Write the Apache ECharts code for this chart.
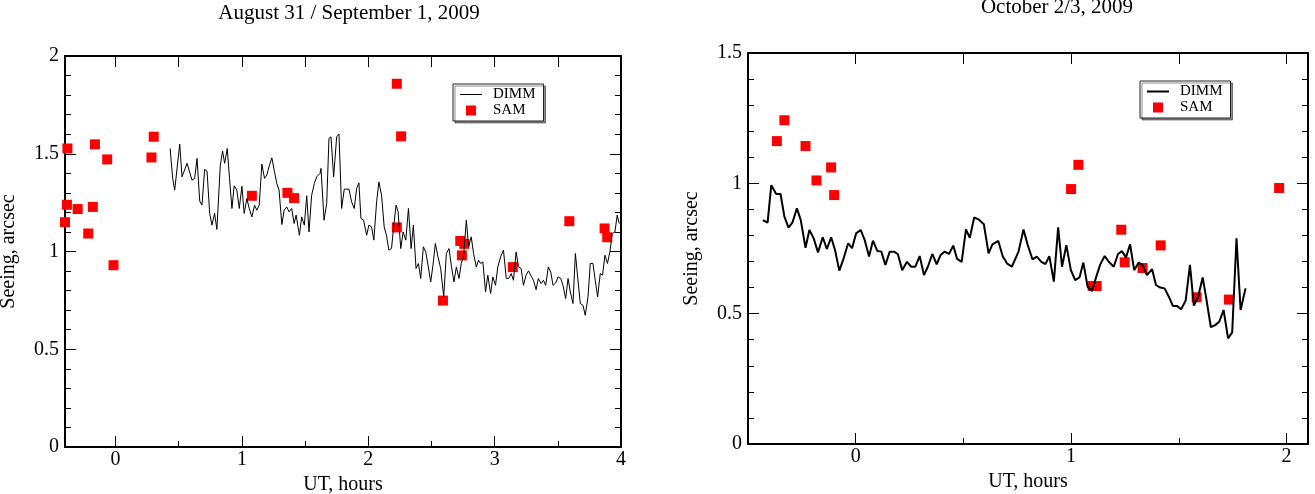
<!DOCTYPE html>
<html>
<head>
<meta charset="utf-8">
<script src="https://cdn.jsdelivr.net/npm/echarts@6/dist/echarts.min.js"></script>
<style>
html, body { margin: 0; padding: 0; background: #fff; }
#main { width: 1315px; height: 494px; }
</style>
</head>
<body>
<div id="main"></div>
<script>
// August 31 / September 1 - DIMM trace (UT hours, arcsec)
var dimmAugX = [0.432, 0.452, 0.468, 0.508, 0.526, 0.566, 0.605, 0.626, 0.645, 0.666, 0.684, 0.705, 0.724, 0.745, 0.763, 0.784, 0.802, 0.829, 0.847, 0.863,
    0.884, 0.902, 0.921, 0.939, 0.960, 0.979, 1.000, 1.018, 1.039, 1.058, 1.079, 1.100, 1.118, 1.137, 1.158, 1.179, 1.197, 1.218, 1.237, 1.258,
    1.276, 1.294, 1.316, 1.334, 1.355, 1.373, 1.394, 1.413, 1.429, 1.442, 1.455, 1.473, 1.494, 1.513, 1.531, 1.552, 1.573, 1.592, 1.618,
    1.626, 1.650, 1.671, 1.689, 1.705, 1.726, 1.750, 1.768, 1.789, 1.810, 1.829, 1.847, 1.868, 1.889, 1.908, 1.926, 1.942, 1.963, 1.987, 2.005,
    2.026, 2.044, 2.066, 2.084, 2.105, 2.126, 2.144, 2.163, 2.184, 2.202, 2.220, 2.236, 2.257, 2.276, 2.297, 2.318, 2.339, 2.357, 2.378, 2.397,
    2.415, 2.436, 2.455, 2.473, 2.494, 2.512, 2.531, 2.552, 2.573, 2.597, 2.618, 2.639, 2.657, 2.678, 2.697, 2.718, 2.736, 2.755, 2.776,
    2.794, 2.815, 2.833, 2.855, 2.873, 2.889, 2.907, 2.928, 2.946, 2.968, 2.986, 3.007, 3.025, 3.047, 3.070, 3.092, 3.112, 3.131, 3.149, 3.170,
    3.189, 3.210, 3.228, 3.249, 3.268, 3.289, 3.307, 3.328, 3.346, 3.368, 3.386, 3.404, 3.425, 3.444, 3.462, 3.483, 3.502, 3.523, 3.541, 3.562,
    3.581, 3.599, 3.620, 3.639, 3.657, 3.678, 3.699, 3.717, 3.739, 3.757, 3.778, 3.796, 3.815, 3.836, 3.854, 3.873, 3.893, 3.912, 3.931, 3.952,
    3.970, 3.986];
var dimmAugY = [1.527, 1.374, 1.314, 1.549, 1.382, 1.451, 1.365, 1.374, 1.476, 1.258, 1.237, 1.420, 1.411, 1.195, 1.135, 1.195, 1.113, 1.442, 1.514, 1.451,
    1.527, 1.374, 1.220, 1.336, 1.314, 1.220, 1.334, 1.195, 1.271, 1.220, 1.177, 1.237, 1.211, 1.237, 1.447, 1.374, 1.391, 1.442, 1.479, 1.408,
    1.348, 1.314, 1.138, 1.211, 1.228, 1.203, 1.220, 1.143, 1.186, 1.135, 1.083, 1.177, 1.135, 1.285, 1.100, 1.288, 1.348, 1.382, 1.399,
    1.425, 1.160, 1.246, 1.579, 1.587, 1.382, 1.587, 1.601, 1.220, 1.319, 1.319, 1.319, 1.254, 1.220, 1.323, 1.351, 1.169, 1.160, 1.083, 1.135,
    1.126, 1.058, 1.254, 1.356, 1.288, 1.126, 1.083, 1.007, 1.015, 1.135, 1.237, 1.203, 1.015, 1.100, 1.058, 1.220, 1.015, 1.135, 0.913, 0.939,
    0.862, 1.024, 0.998, 0.930, 0.844, 0.930, 1.041, 0.972, 0.913, 0.768, 0.990, 1.015, 0.930, 0.844, 0.921, 0.862, 0.939, 0.981, 1.160,
    1.024, 1.075, 0.990, 0.921, 0.955, 0.939, 0.947, 0.793, 0.879, 0.785, 0.870, 0.827, 0.921, 0.972, 1.007, 0.862, 0.862, 0.887, 0.853, 0.998,
    0.921, 0.913, 0.827, 0.879, 0.901, 0.874, 0.853, 0.805, 0.862, 0.836, 0.853, 0.827, 0.921, 0.895, 0.827, 0.839, 0.870, 0.862, 0.827, 0.759,
    0.862, 0.793, 0.734, 0.990, 0.870, 0.734, 0.725, 0.674, 0.768, 0.939, 0.939, 0.853, 0.768, 0.887, 0.879, 0.981, 0.939, 0.998, 1.092, 1.100,
    1.186, 1.143];

// August 31 / September 1 - SAM points
var samAugX = [-0.400, -0.385, -0.381, -0.300, -0.216, -0.180, -0.163, -0.066, -0.016, 0.284, 0.302, 1.079, 1.360, 1.413,
    2.226, 2.260, 2.226, 2.591, 2.728, 2.741, 2.760, 3.144, 3.591, 3.870, 3.891];
var samAugY = [1.150, 1.239, 1.527, 1.217, 1.092, 1.228, 1.548, 1.471, 0.930, 1.481, 1.587, 1.285, 1.300, 1.273,
    1.858, 1.589, 1.123, 0.749, 1.054, 0.980, 1.039, 0.920, 1.155, 1.118, 1.073];

// October 2/3 - DIMM trace
var dimmOctX = [-0.431, -0.409, -0.392, -0.369, -0.349, -0.331, -0.312, -0.294, -0.273, -0.255, -0.233, -0.215, -0.195, -0.175, -0.153, -0.134,
    -0.114, -0.096, -0.076, -0.056, -0.035, -0.017, 0.002, 0.023, 0.042, 0.062, 0.080, 0.101, 0.119, 0.138, 0.158, 0.178, 0.196, 0.216, 0.238,
    0.258, 0.277, 0.297, 0.317, 0.335, 0.356, 0.376, 0.394, 0.413, 0.433, 0.453, 0.471, 0.492, 0.512, 0.530, 0.550, 0.570, 0.595, 0.617, 0.635,
    0.662, 0.683, 0.694,
    0.702, 0.725, 0.756, 0.779, 0.799, 0.821, 0.841, 0.862, 0.881, 0.899, 0.920, 0.940, 0.958, 0.978, 0.999, 1.019, 1.039, 1.057, 1.077, 1.097,
    1.117, 1.136, 1.156, 1.175, 1.198, 1.218, 1.236, 1.255, 1.274, 1.293, 1.314, 1.332, 1.352, 1.376, 1.394, 1.414, 1.434, 1.454, 1.473, 1.493,
    1.511, 1.532, 1.552, 1.570, 1.590, 1.611, 1.629, 1.649, 1.669, 1.688, 1.708, 1.729, 1.748, 1.768, 1.787, 1.810];
var dimmOctY = [0.859, 0.849, 0.993, 0.959, 0.959, 0.872, 0.830, 0.849, 0.904, 0.859, 0.753, 0.821, 0.789, 0.735, 0.793, 0.748,
    0.793, 0.744, 0.665, 0.712, 0.770, 0.751, 0.808, 0.821, 0.782, 0.719, 0.780, 0.740, 0.738, 0.687, 0.738, 0.738, 0.728, 0.667, 0.699,
    0.680, 0.680, 0.721, 0.648, 0.680, 0.729, 0.689, 0.725, 0.738, 0.729, 0.761, 0.710, 0.699, 0.823, 0.791, 0.869, 0.862, 0.843, 0.731, 0.766,
    0.779, 0.719, 0.706,
    0.693, 0.680, 0.738, 0.823, 0.763, 0.708, 0.719, 0.699, 0.690, 0.721, 0.623, 0.831, 0.680, 0.763, 0.667, 0.629, 0.639, 0.696, 0.603, 0.587,
    0.642, 0.690, 0.721, 0.699, 0.680, 0.729, 0.740, 0.716, 0.766, 0.667, 0.696, 0.687, 0.648, 0.671, 0.610, 0.600, 0.597, 0.565, 0.529, 0.529,
    0.517, 0.550, 0.687, 0.531, 0.565, 0.639, 0.552, 0.448, 0.456, 0.469, 0.514, 0.405, 0.428, 0.789, 0.514, 0.597];

// October 2/3 - SAM points
var samOctX = [-0.366, -0.331, -0.233, -0.182, -0.114, -0.100, 1.000, 1.034, 1.100, 1.119, 1.233, 1.249, 1.332, 1.416, 1.583, 1.733, 1.966];
var samOctY = [1.162, 1.242, 1.143, 1.011, 1.061, 0.955, 0.978, 1.071, 0.606, 0.606, 0.822, 0.697, 0.675, 0.762, 0.563, 0.554, 0.982];

// tick positions
var augMajor = [0, 1, 2, 3, 4];
var augMinor = [0.5, 1.5, 2.5, 3.5];
var augTop = [0, 0.5, 1, 1.5, 2, 2.5, 3, 3.5];
var octMajor = [0, 1, 2];
var octMinor = [0.5, 1.5];
var octTop = [0, 0.5, 1, 1.5, 2];

var font = 'Liberation Serif';
var black = '#000';
var red = '#ff0000';

function pairs(xs, ys) {
    return xs.map(function (x, i) { return [x, ys[i]]; });
}

function frameLine(show) {
    return { show: show, onZero: false, lineStyle: { color: black, width: 2 } };
}

// x axes: labelled bottom axis, ticks on top, and short half-hour ticks on a twin grid
function xAxes(grid, twin, min, max, major, minor, top) {
    return [
        {
            gridIndex: grid, type: 'value', min: min, max: max, position: 'bottom',
            name: 'UT, hours', nameLocation: 'middle', nameGap: 24,
            nameTextStyle: { color: black, fontFamily: font, fontSize: 20 },
            axisLine: frameLine(true),
            axisTick: { inside: true, length: 11, customValues: major, lineStyle: { color: black, width: 1 } },
            axisLabel: { customValues: major, margin: 3, color: black, fontFamily: font, fontSize: 20 },
            splitLine: { show: false }
        },
        {
            gridIndex: grid, type: 'value', min: min, max: max, position: 'top',
            axisLine: frameLine(true),
            axisTick: { inside: true, length: 11, customValues: top, lineStyle: { color: black, width: 1 } },
            axisLabel: { show: false },
            splitLine: { show: false }
        },
        {
            gridIndex: twin, type: 'value', min: min, max: max, position: 'bottom',
            axisLine: { show: false },
            axisTick: { inside: true, length: 6, customValues: minor, lineStyle: { color: black, width: 1 } },
            axisLabel: { show: false },
            splitLine: { show: false }
        }
    ];
}

function yAxes(grid, twin, max) {
    var tick = { inside: true, length: 11, lineStyle: { color: black, width: 1 } };
    var minorTick = { show: true, splitNumber: 5, length: 6, lineStyle: { color: black, width: 1 } };
    return [
        {
            gridIndex: grid, type: 'value', min: 0, max: max, interval: 0.5, position: 'left',
            name: 'Seeing, arcsec', nameLocation: 'middle', nameGap: 46,
            nameTextStyle: { color: black, fontFamily: font, fontSize: 20 },
            axisLine: frameLine(true), axisTick: tick, minorTick: minorTick,
            axisLabel: { margin: 6, color: black, fontFamily: font, fontSize: 20 },
            splitLine: { show: false }
        },
        {
            gridIndex: grid, type: 'value', min: 0, max: max, interval: 0.5, position: 'right',
            axisLine: frameLine(true), axisTick: tick, minorTick: minorTick,
            axisLabel: { show: false },
            splitLine: { show: false }
        },
        {
            gridIndex: twin, type: 'value', min: 0, max: max, show: false
        }
    ];
}

function legend(left, top, lineIcon) {
    return {
        orient: 'vertical', left: left, top: top,
        padding: [3, 8, 3, 7], itemGap: 1, itemWidth: 22, itemHeight: 10,
        borderColor: '#222', borderWidth: 1, backgroundColor: '#fff',
        shadowColor: 'rgba(0,0,0,0.45)', shadowOffsetX: 2, shadowOffsetY: 2, shadowBlur: 0,
        textStyle: { color: black, fontFamily: font, fontSize: 15, lineHeight: 15, padding: [0, 0, 0, 6] },
        data: [
            { name: 'DIMM', icon: lineIcon, itemStyle: { color: black } },
            { name: 'SAM', icon: 'path://M0,0h10v10h-10z', itemStyle: { color: red, opacity: 1 } }
        ]
    };
}

var chart = echarts.init(document.getElementById('main'));

var augGrid = { left: 65, top: 56, right: 694, bottom: 47 };
var octGrid = { left: 748, top: 53, right: 7, bottom: 50 };

var option = {
    backgroundColor: '#fff',
    animation: false,
    title: [
        { text: 'August 31 / September 1, 2009', left: 349, top: 3, textAlign: 'center', padding: 0,
          textStyle: { color: black, fontFamily: font, fontSize: 21, fontWeight: 'normal' } },
        { text: 'October 2/3, 2009', left: 1057, top: -3, textAlign: 'center', padding: 0,
          textStyle: { color: black, fontFamily: font, fontSize: 21, fontWeight: 'normal' } }
    ],
    legend: [
        legend(453, 84, 'path://M0,0h22v1h-22z'),
        legend(1140, 81, 'path://M0,0h22v2h-22z')
    ],
    grid: [
        Object.assign({ outerBoundsMode: 'none' }, augGrid),
        Object.assign({ outerBoundsMode: 'none' }, augGrid),
        Object.assign({ outerBoundsMode: 'none' }, octGrid),
        Object.assign({ outerBoundsMode: 'none' }, octGrid)
    ],
    xAxis: xAxes(0, 1, -0.4, 4, augMajor, augMinor, augTop).concat(xAxes(2, 3, -0.5, 2.1, octMajor, octMinor, octTop)),
    yAxis: yAxes(0, 1, 2).concat(yAxes(2, 3, 1.5)),
    series: [
        {
            name: 'DIMM', type: 'line', xAxisIndex: 0, yAxisIndex: 0,
            symbol: 'none', lineStyle: { color: black, width: 1 }, itemStyle: { color: black },
            data: pairs(dimmAugX, dimmAugY)
        },
        {
            name: 'SAM', type: 'scatter', xAxisIndex: 0, yAxisIndex: 0, clip: false,
            symbol: 'rect', symbolSize: 10, itemStyle: { color: red, opacity: 1 },
            data: pairs(samAugX, samAugY)
        },
        {
            name: 'DIMM', type: 'line', xAxisIndex: 3, yAxisIndex: 3,
            symbol: 'none', lineStyle: { color: black, width: 2 }, itemStyle: { color: black },
            data: pairs(dimmOctX, dimmOctY)
        },
        {
            name: 'SAM', type: 'scatter', xAxisIndex: 3, yAxisIndex: 3, clip: false,
            symbol: 'rect', symbolSize: 10, itemStyle: { color: red, opacity: 1 },
            data: pairs(samOctX, samOctY)
        }
    ]
};
chart.setOption(option);
</script>
</body>
</html>
